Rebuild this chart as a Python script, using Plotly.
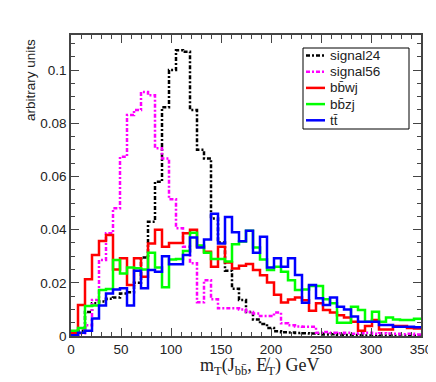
import numpy as np
import plotly.graph_objects as go

# histogram binning (50 bins of 7 GeV)
bin_width = 7
edges = np.arange(0, 350 + bin_width, bin_width)

signal24 = [0.0, 0.002, 0.009, 0.0123, 0.013, 0.014, 0.0145, 0.016, 0.0165, 0.020,
            0.0295, 0.043, 0.058, 0.086, 0.100, 0.1075, 0.1069, 0.085, 0.070, 0.0668,
            0.0442, 0.0352, 0.0245, 0.0178, 0.0135, 0.009, 0.0062, 0.0045, 0.003, 0.0018,
            0.0014, 0.0013, 0.0011, 0.001, 0.0009, 0.0008, 0.0006, 0.0007, 0.0005, 0.0004,
            0.0004, 0.0003, 0.0002, 0.0003, 0.0002, 0.0002, 0.0001, 0.0002, 0.0001, 0.0001]
signal56 = [0.0, 0.001, 0.004, 0.0135, 0.0286, 0.0386, 0.048, 0.0674, 0.0831, 0.085,
            0.0918, 0.0905, 0.0706, 0.0668, 0.0514, 0.0405, 0.0336, 0.0274, 0.0127, 0.021,
            0.0138, 0.0104, 0.0104, 0.0104, 0.0100, 0.0090, 0.0085, 0.0075, 0.0075, 0.0088,
            0.0048, 0.0040, 0.0036, 0.0035, 0.0035, 0.0012, 0.0015, 0.0012, 0.0010, 0.0012,
            0.0008, 0.0010, 0.0012, 0.0008, 0.0010, 0.0009, 0.0008, 0.0007, 0.0008, 0.0006]
bbwj = [0.001, 0.0117, 0.0213, 0.0305, 0.0357, 0.038, 0.025, 0.0292, 0.0192, 0.0292,
        0.0223, 0.0348, 0.040, 0.0336, 0.035, 0.035, 0.0386, 0.040, 0.0336, 0.0317,
        0.026, 0.0336, 0.0276, 0.0254, 0.0264, 0.0271, 0.0248, 0.0228, 0.0201, 0.0155,
        0.0126, 0.0137, 0.0145, 0.0134, 0.0095, 0.0123, 0.0098, 0.0088, 0.0078, 0.007,
        0.0054, 0.002, 0.0038, 0.006, 0.0024, 0.0024, 0.0038, 0.0038, 0.003, 0.0028]
bbzj = [0.002, 0.003, 0.0113, 0.0115, 0.0173, 0.0177, 0.0286, 0.0235, 0.0258, 0.0255,
        0.025, 0.0313, 0.0258, 0.0183, 0.0288, 0.029, 0.032, 0.0388, 0.034, 0.0313,
        0.029, 0.029, 0.028, 0.0345, 0.0355, 0.0396, 0.0333, 0.0288, 0.0248, 0.026,
        0.0242, 0.021, 0.0173, 0.0175, 0.0188, 0.0188, 0.0138, 0.0123, 0.005, 0.005,
        0.011, 0.0098, 0.0054, 0.0091, 0.0054, 0.007, 0.0062, 0.006, 0.006, 0.0065]
tt = [0.0003, 0.0012, 0.002, 0.0066, 0.0115, 0.016, 0.0175, 0.018, 0.0115, 0.0245,
      0.018, 0.0248, 0.0242, 0.030, 0.027, 0.027, 0.0305, 0.037, 0.0333, 0.0363,
      0.046, 0.0348, 0.0448, 0.039, 0.0356, 0.0396, 0.0313, 0.0373, 0.0258, 0.0292,
      0.026, 0.0292, 0.0229, 0.0125, 0.0192, 0.0142, 0.0117, 0.0145, 0.011, 0.010,
      0.0073, 0.0054, 0.0054, 0.0054, 0.0041, 0.0041, 0.0035, 0.0035, 0.0035, 0.0033]

names = ["signal24", "signal56", "bb\u0304wj", "bb\u0304zj", "tt\u0304"]
colors = ["black", "#ff00ff", "#ff0000", "#00ff00", "#0000ff"]
dashes = ["4px,2px,2px,2px", "4px,2px,2px,2px", "solid", "solid", "solid"]

xticks = [0, 50, 100, 150, 200, 250, 300, 350]
yticks = [0, 0.02, 0.04, 0.06, 0.08, 0.1]
yticklabels = ["0", "0.02", "0.04", "0.06", "0.08", "0.1"]

fig = go.Figure()
for name, vals, col, dsh in zip(names, [signal24, signal56, bbwj, bbzj, tt], colors, dashes):
    # repeat last bin so the step closes at 350
    fig.add_trace(go.Scatter(x=edges, y=list(vals) + [vals[-1]], name=name, mode="lines",
                             showlegend=False,
                             line=dict(color=col, width=2.5, dash=dsh, shape="hv")))

sans = "Liberation Sans, Arial, sans-serif"
axis_font = dict(family=sans, size=13.5, color="#222")
fig.update_xaxes(range=[0, 350], tickvals=xticks, ticks="inside", ticklen=8, tickcolor="#444",
                 minor=dict(ticks="inside", ticklen=4, dtick=10, tickcolor="#444"),
                 showline=True, linecolor="#444", linewidth=1.5, mirror="allticks",
                 showgrid=False, zeroline=False, tickfont=axis_font, automargin=False)
fig.update_yaxes(range=[0, 0.1132], tickvals=yticks, ticktext=yticklabels, ticks="inside",
                 ticklen=8, tickcolor="#444",
                 minor=dict(ticks="inside", ticklen=4, dtick=0.005, tickcolor="#444"),
                 showline=True, linecolor="#444", linewidth=1.5, mirror="allticks",
                 showgrid=False, zeroline=False, tickfont=axis_font, automargin=False)

# page has an 8px body margin, so the figure is placed 8px in from the corner
OFF = 8
FW, FH = 436 - OFF, 382 - OFF
L, T = 63, 27
W, H = 350, 301
def px_x(p):
    return (p - OFF - L) / W
def px_y(p):
    return (T + H - (p - OFF)) / H

fig.add_annotation(text="arbitrary units", textangle=-90, xref="paper", yref="paper",
                   x=px_x(30), y=px_y(37), xanchor="center", yanchor="top", showarrow=False,
                   font=dict(family=sans, size=13.5, color="#222"))
fig.add_annotation(text="m<sub>T</sub>(J<sub>bb\u0304</sub>, E\u0338<sub>T</sub>) GeV",
                   xref="paper", yref="paper", x=px_x(260), y=px_y(367), xanchor="center",
                   yanchor="middle", showarrow=False,
                   font=dict(family="Liberation Serif, DejaVu Serif, serif", size=18, color="#222"))

# legend box drawn by hand (ROOT-style compact legend)
fig.add_shape(type="rect", xref="paper", yref="paper", layer="above",
              x0=px_x(303), x1=px_x(409), y0=px_y(129), y1=px_y(48),
              line=dict(color="black", width=1), fillcolor="white")
rows = [55.5, 71.7, 87.9, 104.1, 120.3]
for name, col, dsh, ry in zip(names, colors, dashes, rows):
    fig.add_shape(type="line", xref="paper", yref="paper", layer="above",
                  x0=px_x(306), x1=px_x(325), y0=px_y(ry), y1=px_y(ry),
                  line=dict(color=col, width=2.5, dash=dsh))
    fig.add_annotation(text=name, xref="paper", yref="paper", x=px_x(328), y=px_y(ry),
                       xanchor="left", yanchor="middle", showarrow=False,
                       font=dict(family=sans, size=13.5, color="#222"))

fig.update_layout(
    width=FW, height=FH,
    margin=dict(l=L, r=FW - L - W, t=T, b=FH - T - H),
    paper_bgcolor="white", plot_bgcolor="white",
    showlegend=False,
)

fig.write_html("out.html")
